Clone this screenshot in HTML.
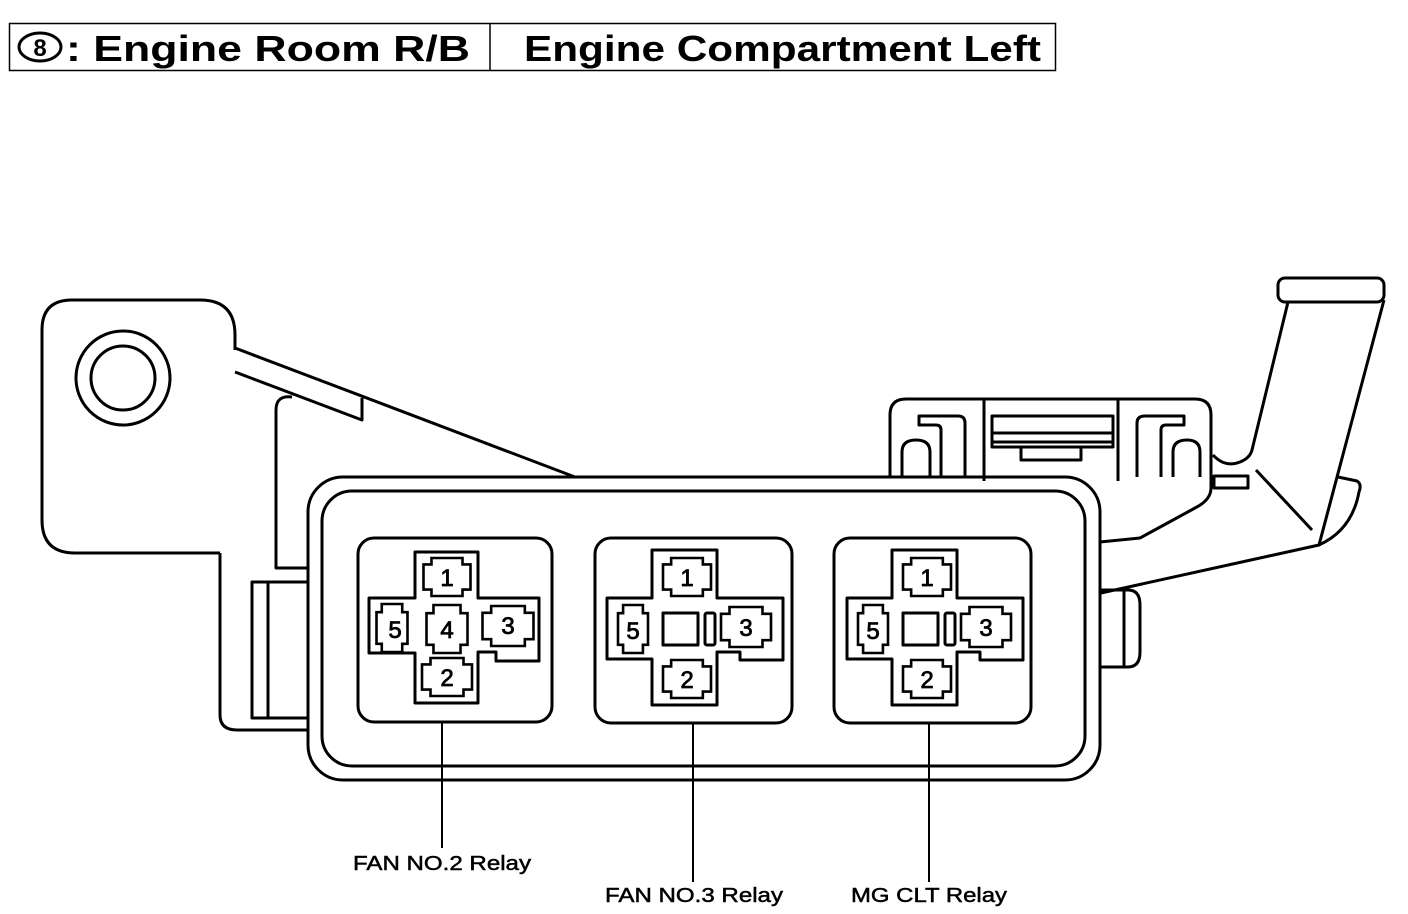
<!DOCTYPE html>
<html><head><meta charset="utf-8"><style>
html,body{margin:0;padding:0;background:#fff;}
svg{display:block;}
text{font-family:"Liberation Sans",sans-serif;fill:#000;}
</style></head><body>
<svg width="1408" height="914" viewBox="0 0 1408 914" xmlns="http://www.w3.org/2000/svg">
<defs>
<path id="tm" d="M-0.33,-0.5 L0.33,-0.5 L0.33,-0.33 L0.5,-0.33 L0.5,0.33 L0.33,0.33 L0.33,0.5 L-0.33,0.5 L-0.33,0.33 L-0.5,0.33 L-0.5,-0.33 L-0.33,-0.33 Z" fill="none" stroke="#000" stroke-width="2.6" vector-effect="non-scaling-stroke"/>
</defs>
<!-- title -->
<rect x="9.5" y="23.5" width="1046" height="47" fill="none" stroke="#000" stroke-width="1.5"/>
<line x1="490" y1="24" x2="490" y2="70" stroke="#000" stroke-width="1.5"/>
<ellipse cx="40" cy="47" rx="21" ry="14" fill="none" stroke="#000" stroke-width="3"/>
<text x="40" y="56" font-size="24" font-weight="bold" text-anchor="middle">8</text>
<text x="66" y="61" font-size="36" font-weight="bold" textLength="404" lengthAdjust="spacingAndGlyphs">: Engine Room R/B</text>
<text x="524" y="61" font-size="36" font-weight="bold" textLength="517" lengthAdjust="spacingAndGlyphs">Engine Compartment Left</text>

<g fill="none" stroke="#000" stroke-width="3" stroke-linejoin="round">
<!-- left bracket -->
<path d="M235,350 L235,335 Q235,300 200,300 L72,300 Q42,300 42,330 L42,520 Q42,553 75,553 L220,553"/>
<circle cx="123" cy="378" r="47"/>
<circle cx="123" cy="378" r="32"/>
<path d="M235,348 L575,477"/>
<path d="M235,372 L362,420 L362,398"/>
<path d="M220,553 L220,715 Q220,730 237,730 L308,730"/>
<path d="M308,568 L276,568 L276,410 Q276,395 292,397"/>
<path d="M308,582 L252,582 L252,718 L308,718"/>
<line x1="268" y1="582" x2="268" y2="718"/>
<!-- main box -->
<rect x="308" y="477" width="792" height="303" rx="35"/>
<rect x="322" y="491" width="763" height="275" rx="30"/>
<!-- right connector -->
<path d="M1100,590 L1128,590 Q1140,590 1140,605 L1140,652 Q1140,667 1128,667 L1100,667"/>
<line x1="1124" y1="590" x2="1124" y2="667"/>
<!-- top right piece -->
<path d="M890,477 L890,415 Q890,399 906,399 L1195,399 Q1211,399 1211,415 L1211,488 Q1211,500 1195,508 L1140,538 L1100,542"/>
<line x1="984" y1="399" x2="984" y2="481"/>
<line x1="1118" y1="399" x2="1118" y2="481"/>
<path d="M902,477 L902,452 Q902,440 916,440 Q930,440 930,452 L930,477"/>
<path d="M941,477 L941,430 Q941,425 936,425 L919,425 L919,416 L958,416 Q965,416 965,423 L965,477"/>
<path d="M1200,477 L1200,452 Q1200,440 1187,440 Q1173,440 1173,452 L1173,477"/>
<path d="M1161,477 L1161,430 Q1161,425 1166,425 L1184,425 L1184,416 L1145,416 Q1137,416 1137,423 L1137,477"/>
<rect x="992" y="416" width="121" height="31"/>
<line x1="992" y1="433" x2="1113" y2="433"/>
<line x1="992" y1="442" x2="1113" y2="442"/>
<rect x="1021" y="447" width="60" height="13"/>
<rect x="1214" y="476" width="34" height="12"/>
<!-- arm -->
<path d="M1213,455 Q1225,468 1240,462 Q1250,458 1252,450 L1288,302"/>
<path d="M1384,300 L1319,545 L1101,593"/>
<rect x="1278" y="278" width="106" height="24" rx="7"/>
<path d="M1338,477 L1357,481 Q1362,484 1359,492 Q1352,530 1319,545"/>
<line x1="1256" y1="470" x2="1312" y2="530"/>
<!-- relay boxes -->
<rect x="358" y="538" width="194" height="184" rx="16"/>
<rect x="595" y="538" width="197" height="185" rx="16"/>
<rect x="834" y="538" width="197" height="185" rx="16"/>
<!-- cross 1 -->
<path d="M415,552 L478,552 L478,598 L539,598 L539,661 L496,661 L496,652 L478,652 L478,703 L415,703 L415,653 L369,653 L369,598 L415,598 Z"/>
<!-- cross 2 -->
<path d="M652,550 L717,550 L717,598 L783,598 L783,660 L740,660 L740,652 L717,652 L717,705 L652,705 L652,659 L607,659 L607,598 L652,598 Z"/>
<rect x="663" y="613" width="35" height="32"/>
<rect x="705" y="613" width="10" height="32" rx="2"/>
<!-- cross 3 -->
<path d="M892,550 L957,550 L957,598 L1023,598 L1023,660 L980,660 L980,652 L957,652 L957,705 L892,705 L892,659 L847,659 L847,598 L892,598 Z"/>
<rect x="903" y="613" width="35" height="32"/>
<rect x="945" y="613" width="10" height="32" rx="2"/>
</g>
<!-- terminals -->
<g>
<use href="#tm" transform="translate(447,577) scale(47,38)"/>
<use href="#tm" transform="translate(392,628) scale(31,48)"/>
<use href="#tm" transform="translate(447,629) scale(41,48)"/>
<use href="#tm" transform="translate(508,626) scale(51,40)"/>
<use href="#tm" transform="translate(447,677) scale(50,38)"/>

<use href="#tm" transform="translate(687,577) scale(48,38)"/>
<use href="#tm" transform="translate(633,629) scale(30,48)"/>
<use href="#tm" transform="translate(746,627) scale(50,40)"/>
<use href="#tm" transform="translate(687,679) scale(48,38)"/>

<use href="#tm" transform="translate(927,577) scale(48,38)"/>
<use href="#tm" transform="translate(873,629) scale(30,48)"/>
<use href="#tm" transform="translate(986,627) scale(50,40)"/>
<use href="#tm" transform="translate(927,679) scale(48,38)"/>
</g>
<g font-size="24" text-anchor="middle" stroke="#000" stroke-width="0.8">
<text x="447" y="586">1</text><text x="395" y="638">5</text><text x="447" y="638">4</text><text x="508" y="634">3</text><text x="447" y="686">2</text>
<text x="687" y="586">1</text><text x="633" y="639">5</text><text x="746" y="636">3</text><text x="687" y="688">2</text>
<text x="927" y="586">1</text><text x="873" y="639">5</text><text x="986" y="636">3</text><text x="927" y="688">2</text>
</g>
<!-- leaders -->
<g stroke="#000" stroke-width="2">
<line x1="442" y1="722" x2="442" y2="848"/>
<line x1="693" y1="723" x2="693" y2="882"/>
<line x1="929" y1="723" x2="929" y2="882"/>
</g>
<g font-size="20" stroke="#000" stroke-width="0.5">
<text x="353" y="870" textLength="178" lengthAdjust="spacingAndGlyphs">FAN NO.2 Relay</text>
<text x="605" y="902" textLength="178" lengthAdjust="spacingAndGlyphs">FAN NO.3 Relay</text>
<text x="851" y="902" textLength="156" lengthAdjust="spacingAndGlyphs">MG CLT Relay</text>
</g>
</svg>
</body></html>
